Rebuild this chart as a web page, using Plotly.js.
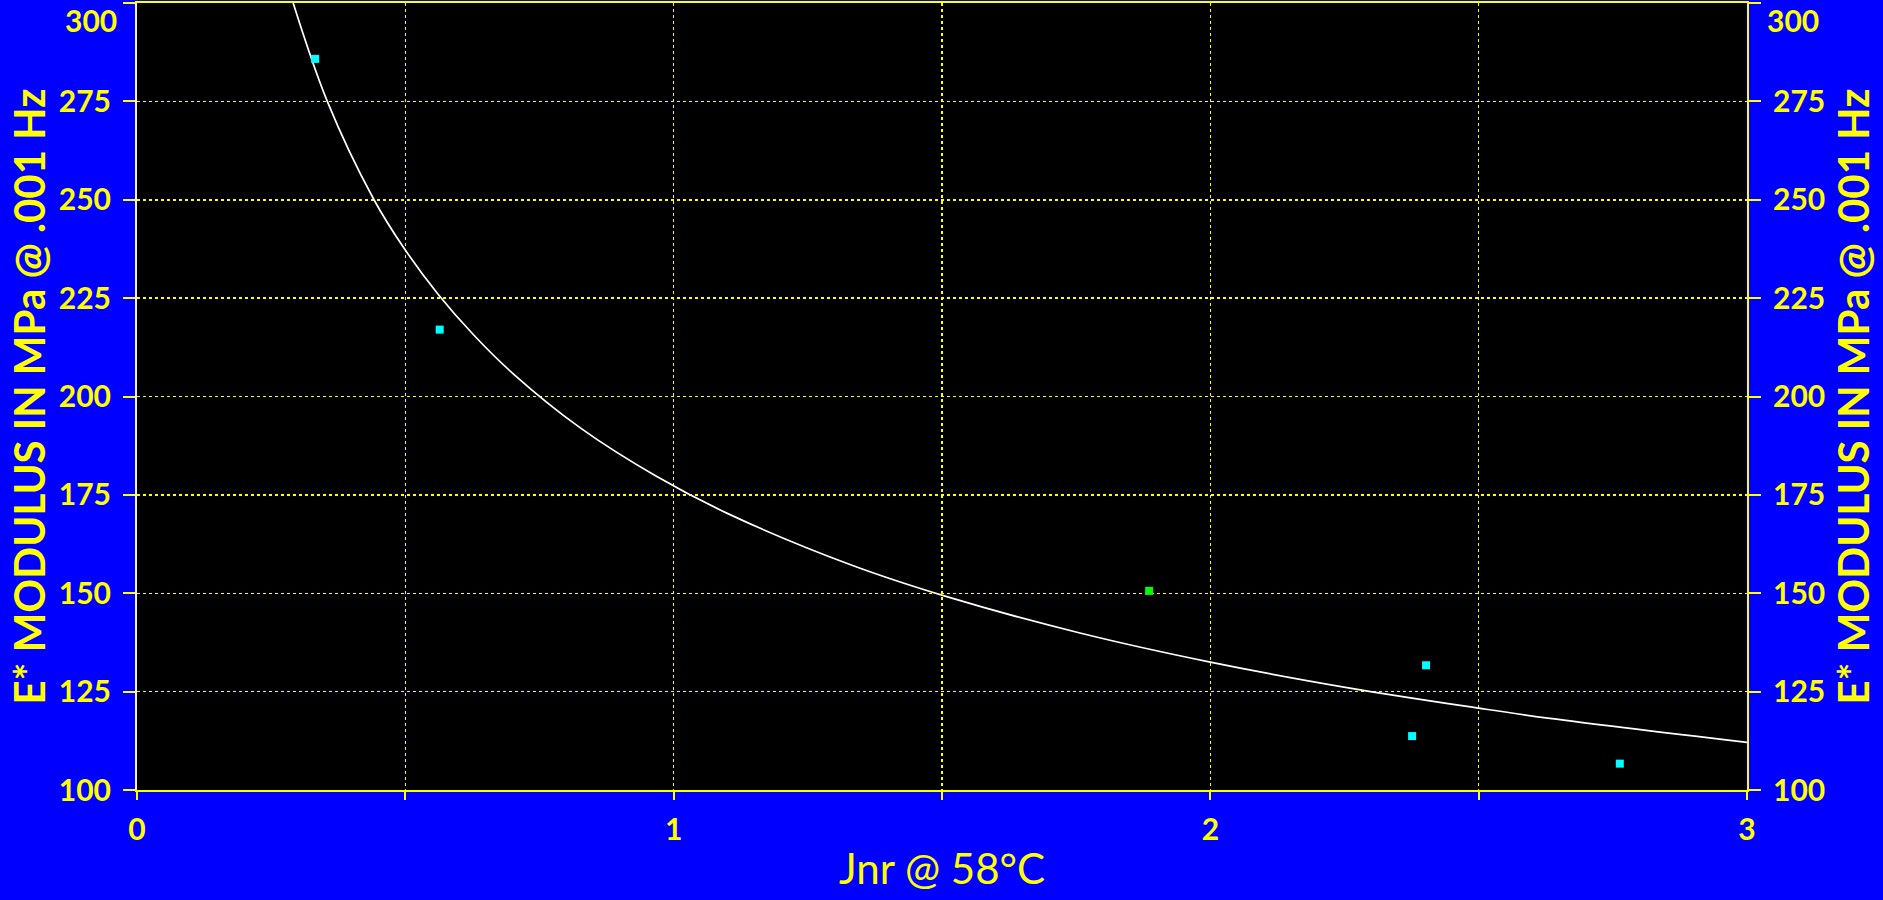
<!DOCTYPE html>
<html>
<head>
<meta charset="utf-8">
<script src="https://cdn.plot.ly/plotly-3.0.1.min.js"></script>
<style>html,body{margin:0;padding:0;background:#0000ff;}#chart{width:1883px;height:900px;}</style>
</head>
<body>
<div id="chart"></div>
<script>
// Measured data points (Jnr @ 58°C vs E* modulus)
const cyanX = [0.332, 0.564, 2.402, 2.376, 2.763];
const cyanY = [285.8, 217.0, 131.7, 113.7, 106.7];
const greenX = [1.886];
const greenY = [150.6];
// Trend curve
const curveX = [0.291, 0.3546, 0.4416, 0.498, 0.561, 0.627, 0.7, 0.8254, 0.967, 1.1, 1.3285, 1.512, 1.757, 2.0, 2.26, 2.5, 2.633, 3.0];
const curveY = [300, 275, 250, 237.6, 226.0, 215.7, 205.9, 192.1, 179.8, 170.3, 157.3, 149.0, 139.9, 132.5, 125.9, 120.8, 118.2, 112.1];
// Tick labels
const yTickVals = [100, 125, 150, 175, 200, 225, 250, 275, 300];
const yTickText = ['100', '125', '150', '175', '200', '225', '250', '275', ''];
const xTickVals = [0, 0.5, 1, 1.5, 2, 2.5, 3];
const xTickText = ['0', '', '1', '', '2', '', '3'];
const yTitle = 'E* MODULUS IN MPa @ .001 Hz';
const xTitle = 'Jnr @ 58°C';

const YEL = '#ffff00';
const FONT = 'Lato, "Open Sans", sans-serif';

const traces = [
  {x: curveX, y: curveY, mode: 'lines', line: {color: '#ffffff', width: 1.7, shape: 'spline', smoothing: 1}, hoverinfo: 'skip'},
  {x: cyanX, y: cyanY, mode: 'markers', marker: {symbol: 'square', size: 8, color: '#00ffff'}},
  {x: greenX, y: greenY, mode: 'markers', marker: {symbol: 'square', size: 8, color: '#00ff00'}},
  {x: [null], y: [null], yaxis: 'y2', mode: 'markers', showlegend: false}
];

const axisFont = {family: FONT, size: 30, color: YEL, weight: 'bold'};
const yTitleFont = {family: FONT, size: 42, color: YEL, weight: 'bold'};

const layout = {
  width: 1883, height: 900,
  paper_bgcolor: '#0000ff',
  plot_bgcolor: '#000000',
  showlegend: false,
  margin: {l: 137, r: 136, t: 3, b: 110},
  xaxis: {
    range: [0, 3], tickvals: xTickVals, ticktext: xTickText,
    showgrid: true, gridcolor: YEL, griddash: 'dot', gridwidth: 1.5,
    showline: true, linecolor: YEL, linewidth: 2, mirror: true,
    ticks: 'outside', ticklen: 8, tickcolor: YEL, tickwidth: 2,
    tickfont: axisFont, zeroline: false, ticklabelstandoff: 4,
    title: {text: xTitle, font: {family: FONT, size: 42, color: YEL}, standoff: 10}
  },
  yaxis: {
    range: [100, 300], tickvals: yTickVals, ticktext: yTickText,
    showgrid: true, gridcolor: YEL, griddash: 'dot', gridwidth: 1.5,
    showline: true, linecolor: '#f4f0d8', linewidth: 2,
    ticks: 'outside', ticklen: 12, tickcolor: YEL, tickwidth: 2,
    tickfont: axisFont, zeroline: false, ticklabelstandoff: 6,
    title: {text: yTitle, font: yTitleFont, standoff: 0}
  },
  yaxis2: {
    overlaying: 'y', side: 'right',
    range: [100, 300], tickvals: yTickVals, ticktext: yTickText,
    showgrid: false, showline: true, linecolor: YEL, linewidth: 2,
    ticks: 'outside', ticklen: 12, tickcolor: YEL, tickwidth: 2,
    tickfont: axisFont, zeroline: false, ticklabelstandoff: 6,
    title: {text: yTitle, font: yTitleFont, standoff: 15}
  },
  annotations: [
    {xref: 'paper', yref: 'y', x: 0, y: 300, xanchor: 'right', yanchor: 'top', xshift: -18, yshift: 3,
     text: '300', showarrow: false, font: axisFont},
    {xref: 'paper', yref: 'y', x: 1, y: 300, xanchor: 'left', yanchor: 'top', xshift: 18, yshift: 3,
     text: '300', showarrow: false, font: axisFont}
  ]
};

Plotly.newPlot('chart', traces, layout, {displayModeBar: false, staticPlot: true});
</script>
</body>
</html>
